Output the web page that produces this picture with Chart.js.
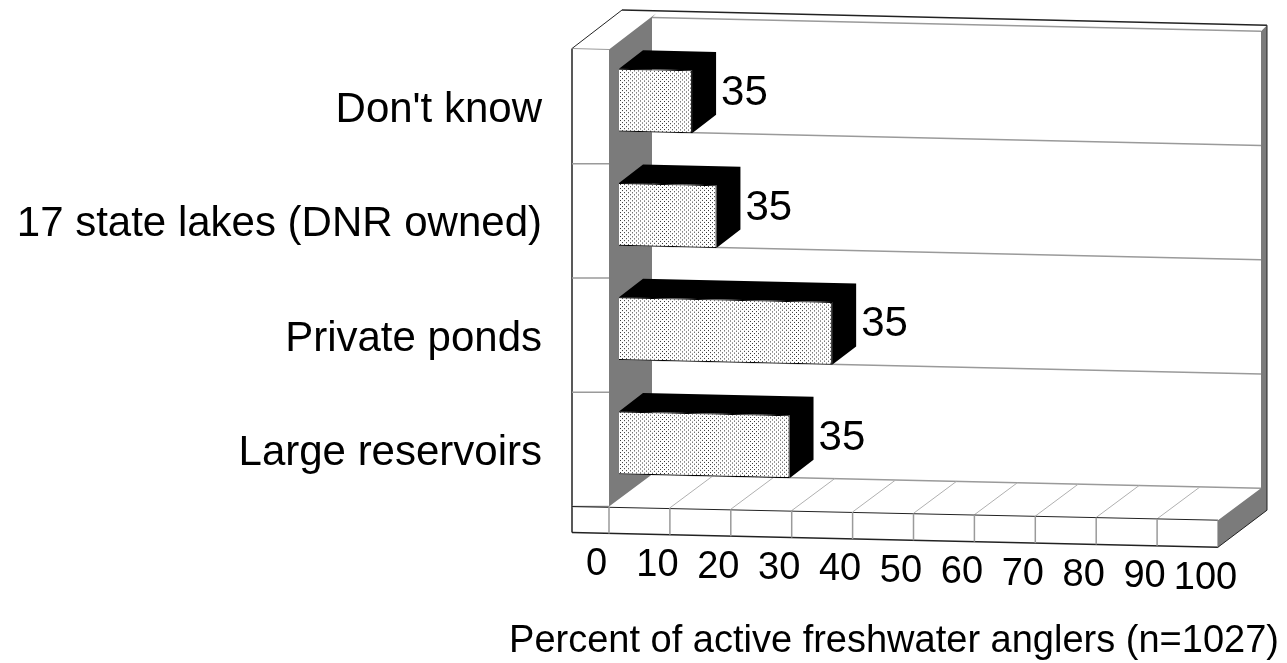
<!DOCTYPE html>
<html>
<head>
<meta charset="utf-8">
<title>Active freshwater anglers</title>
<script src="https://cdn.jsdelivr.net/npm/chart.js@4/dist/chart.umd.js"></script>
<style>
  html, body { margin: 0; padding: 0; background: #fff; }
  canvas { display: block; }
</style>
</head>
<body>
<canvas id="grafico" width="1287" height="663"></canvas>
<script>
// Values
const categories = ["Don't know", '17 state lakes (DNR owned)', 'Private ponds', 'Large reservoirs'];
const percentValues = [12, 16, 35, 28];
// The printed labels really do all say 35 in the reference
const barLabels = ['35', '35', '35', '35'];
const xTicks = [0, 10, 20, 30, 40, 50, 60, 70, 80, 90, 100];
const xTitle = 'Percent of active freshwater anglers (n=1027)';

const fontName = '"Liberation Sans", Arial, sans-serif';
const colors = { ink: '#000', edge: '#222', grid: '#9a9a9a', wall: '#7b7b7b', paper: '#fff' };

// The whole plot leans down to the right, and the walls recede up and to the right
const tilt = 0.0225;
const wallDepth = { x: 43, y: -32 };
const barDepth = { x: 24, y: -19 };
const frontInset = { x: -10, y: 6.5 };

// Stipple used on the bar faces
function stipple() {
  const tile = document.createElement('canvas');
  tile.width = 4;
  tile.height = 4;
  const c = tile.getContext('2d');
  c.fillStyle = '#fff';
  c.fillRect(0, 0, 4, 4);
  c.fillStyle = '#333';
  c.fillRect(0, 0, 1, 1);
  c.fillRect(2, 2, 1, 1);
  return c.createPattern(tile, 'repeat');
}

function polygon(ctx, points, fill, stroke, width) {
  ctx.beginPath();
  points.forEach((p, i) => (i ? ctx.lineTo(p[0], p[1]) : ctx.moveTo(p[0], p[1])));
  ctx.closePath();
  if (fill) {
    ctx.fillStyle = fill;
    ctx.fill();
  }
  if (stroke) {
    ctx.strokeStyle = stroke;
    ctx.lineWidth = width || 1;
    ctx.stroke();
  }
}

function line(ctx, a, b, color, width) {
  ctx.beginPath();
  ctx.moveTo(a[0], a[1]);
  ctx.lineTo(b[0], b[1]);
  ctx.strokeStyle = color;
  ctx.lineWidth = width || 1;
  ctx.stroke();
}

// Walls, floor and the depth of the bars, all placed from the chart's scales
const frame3d = {
  id: 'frame3d',
  beforeDatasetsDraw(chart) {
    const { ctx, scales: { x: sx, y: sy } } = chart;
    const band = sy.height / categories.length;
    const pt = (v, yy, d) => [
      sx.getPixelForValue(v) + frontInset.x + wallDepth.x * d,
      yy + frontInset.y + wallDepth.y * d + tilt * (sx.getPixelForValue(v) - sx.left)
    ];
    const top = sy.top;
    const bottom = sy.bottom;
    const strip = 27;
    const panel = 37;

    ctx.save();

    // left panel and top plate
    const fl = pt(0, top, 0);
    const fb = pt(0, bottom, 0);
    const backTop = pt(0, top, 1);
    const backBottom = pt(0, bottom, 1);
    const farTop = pt(100, top, 1);
    const farBottom = pt(100, bottom, 1);
    const outerCorner = [fl[0] - panel + 50, fl[1] - 39.5];
    const outerFar = [farTop[0] + 6, farTop[1] - 6];

    polygon(ctx, [[fl[0] - panel, fl[1] - 1], outerCorner, outerFar, farTop, backTop, fl], colors.paper);
    line(ctx, [fl[0] - panel, fl[1] - 1], outerCorner, colors.edge);
    line(ctx, outerCorner, outerFar, colors.edge, 1.5);
    line(ctx, [fl[0] - panel, fl[1] - 1], fl, colors.grid);
    line(ctx, [fl[0] - panel, fl[1] - 1], [fl[0] - panel, fb[1] + strip - 1], colors.edge, 1.5);

    // back wall rules
    for (let i = 0; i <= categories.length; i++) {
      const yy = top + band * i;
      line(ctx, pt(0, yy, 1), pt(100, yy, 1), colors.grid, 1.5);
      if (i > 0) {
        line(ctx, [fl[0] - panel, pt(0, yy, 0)[1]], pt(0, yy, 0), colors.grid, 1.5);
      }
    }

    // gray side wall
    polygon(ctx, [fl, [backTop[0] + 4, backTop[1] - 4], backTop, backBottom, fb], colors.wall);

    // floor with its depth lines
    xTicks.slice(1, -1).forEach(v => {
      line(ctx, pt(v, bottom, 0), pt(v, bottom, 1), '#b0b0b0');
    });

    // front strip of the floor
    const stripRight = pt(100, bottom, 0);
    line(ctx, [fb[0] - panel, fb[1]], stripRight, colors.edge);
    line(ctx, [fb[0] - panel, fb[1] + strip - 1], [stripRight[0], stripRight[1] + strip], colors.edge, 1.5);
    xTicks.forEach(v => {
      const p = pt(v, bottom, 0);
      line(ctx, p, [p[0], p[1] + strip], colors.grid, 1.5);
    });

    // gray end of the wall and floor
    polygon(ctx, [
      stripRight,
      farBottom,
      farTop,
      outerFar,
      [outerFar[0], farBottom[1] + 22],
      [stripRight[0], stripRight[1] + strip]
    ], colors.wall);
    line(ctx, outerFar, [outerFar[0], farBottom[1] + 22], colors.edge);
    line(ctx, [outerFar[0], farBottom[1] + 22], [stripRight[0], stripRight[1] + strip], colors.edge);

    ctx.restore();

    // everything the library draws for the bars leans with the plot
    ctx.save();
    ctx.transform(1, tilt, 0, 1, 0, -tilt * sx.left);
    chart.getDatasetMeta(0).data.forEach(bar => {
      const h = bar.height / 2;
      polygon(ctx, [
        [bar.base, bar.y - h],
        [bar.base + barDepth.x, bar.y - h + barDepth.y],
        [bar.x + barDepth.x, bar.y - h + barDepth.y],
        [bar.x + barDepth.x, bar.y + h + barDepth.y],
        [bar.x, bar.y + h],
        [bar.x, bar.y - h]
      ], colors.ink);
    });
  },
  afterDatasetsDraw(chart) {
    const { ctx, scales: { x: sx } } = chart;
    ctx.restore();

    ctx.save();
    ctx.fillStyle = colors.ink;
    ctx.textBaseline = 'middle';

    // labels next to the bars
    ctx.textAlign = 'left';
    ctx.font = '42px ' + fontName;
    chart.getDatasetMeta(0).data.forEach((bar, i) => {
      ctx.fillText(barLabels[i], bar.x + 29, bar.y - 8.5 + tilt * (bar.x - sx.left));
    });

    // x tick labels follow the tilt, which the scale itself cannot do
    ctx.textAlign = 'center';
    ctx.font = '38px ' + fontName;
    xTicks.forEach(v => {
      const px = sx.getPixelForValue(v);
      ctx.fillText(String(v), px - 22.5, sx.top + 64.5 + tilt * (px - sx.left));
    });

    // axis title
    ctx.font = '38px ' + fontName;
    ctx.fillText(xTitle, 894, 642);
    ctx.restore();
  }
};

new Chart(document.getElementById('grafico'), {
  type: 'bar',
  data: {
    labels: categories,
    datasets: [{
      label: xTitle,
      data: percentValues,
      backgroundColor: stipple(),
      borderColor: '#000',
      borderWidth: 1,
      barPercentage: 0.55,
      categoryPercentage: 1
    }]
  },
  options: {
    indexAxis: 'y',
    responsive: false,
    animation: false,
    layout: { padding: { top: 43, right: 59, left: 0, bottom: 0 } },
    plugins: { legend: { display: false }, tooltip: { enabled: false } },
    scales: {
      x: {
        min: 0,
        max: 100,
        afterFit(scale) { scale.height = 163; },
        grid: { display: false },
        border: { display: false },
        ticks: { display: false, stepSize: 10 }
      },
      y: {
        afterFit(scale) {
          scale.width = 619;
          // the big labels would otherwise push the plot area down
          scale.paddingTop = 0;
          scale.paddingBottom = 0;
        },
        grid: { display: false, drawTicks: false },
        border: { display: false },
        ticks: {
          color: '#000',
          padding: 77,
          labelOffset: 10.5,
          autoSkip: false,
          font: { family: fontName, size: 42 }
        }
      }
    }
  },
  plugins: [frame3d]
});
</script>
</body>
</html>
